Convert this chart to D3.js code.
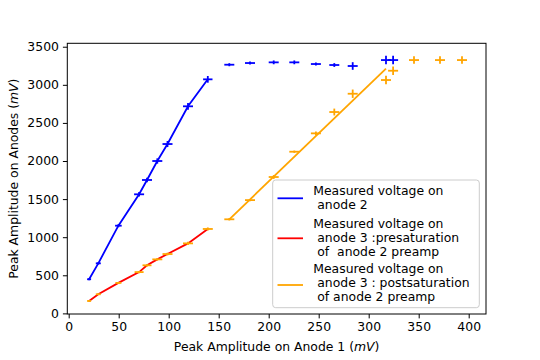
<!DOCTYPE html>
<html><head><meta charset="utf-8">
<script src="https://cdn.jsdelivr.net/npm/d3@7/dist/d3.min.js"></script>
<style>
body{margin:0;background:#fff;}
text{font-family:"DejaVu Sans",sans-serif;}
</style></head>
<body><svg id="c" width="540" height="360"></svg>
<script>
// Anode 1 amplitudes (mV)
const preX = [20.4, 29.6, 49.7, 70.4, 78.3, 88.6, 98.8, 119.3, 139.1];
const satX = [160.6, 181.3, 205.0, 225.6, 247.2, 265.6, 284.0, 317.3, 324.4];
const tailX = [345.3, 371.3, 393.3];
// Anode 2 (blue)
const a2PreY = [448, 657, 1151, 1563, 1751, 2000, 2223, 2718, 3072];
const a2PreXErr = [2, 2.5, 3.3, 5, 5, 5, 5, 5, 4.7];
const a2PreYErr = [12, 15, 20, 30, 30, 35, 40, 45, 44];
const a2SatY = [3264, 3286, 3295, 3295, 3273, 3260, 3247, 3325, 3325];
const a2SatXErr = [5, 5, 5, 5, 5, 5, 5, 5, 5];
const a2SatYErr = [20, 20, 25, 25, 20, 25, 50, 55, 55];
// Anode 3 presaturation (red line, orange error bars)
const a3PreY = [163, 251, 400, 542, 631, 709, 779, 919, 1108];
const a3PreXErr = [2, 2.5, 3, 4.5, 4.5, 5, 5, 5, 5];
const a3PreYErr = [10, 10, 12, 15, 15, 15, 18, 20, 20];
// Anode 3 postsaturation (orange)
const a3PostY = [1235, 1487, 1790, 2122, 2363, 2643, 2883, 3063, 3185];
const a3PostXErr = [5, 5, 5, 5, 5, 5, 5, 5, 5];
const a3PostYErr = [15, 15, 25, 15, 25, 45, 55, 55, 55];
const a3TailY = [3325, 3325, 3325];
const a3TailXErr = [5, 5, 5];
const a3TailYErr = [50, 50, 50];
// orange straight line
const postLineX = [160.6, 317.3];
const postLineY = [1235, 3212];

const xTicks = [0, 50, 100, 150, 200, 250, 300, 350, 400];
const yTicks = [0, 500, 1000, 1500, 2000, 2500, 3000, 3500];
const legendItems = [
  {color: "#0000ff", lines: ["Measured voltage on", " anode 2"]},
  {color: "#ff0000", lines: ["Measured voltage on", " anode 3 :presaturation", " of  anode 2 preamp"]},
  {color: "#ffa500", lines: ["Measured voltage on", " anode 3 : postsaturation", " of anode 2 preamp"]}
];

const FS = 12.4;
const svg = d3.select("#c");
const L = 67.3, R = 486, T = 43.3, B = 314;
const x = d3.scaleLinear().domain([-1.4, 417.3]).range([L, R]);
const y = d3.scaleLinear().domain([-8, 3545]).range([B, T]);

const zip = (xs, ys) => xs.map((v, i) => [v, ys[i]]);
const line = d3.line().x(d => x(d[0])).y(d => y(d[1]));

const g = svg.append("g");
g.append("path").attr("d", line(zip(preX, a2PreY))).attr("fill", "none").attr("stroke", "#0000ff").attr("stroke-width", 1.8);
g.append("path").attr("d", line(zip(preX, a3PreY))).attr("fill", "none").attr("stroke", "#ff0000").attr("stroke-width", 1.8);
g.append("path").attr("d", line(zip(postLineX, postLineY))).attr("fill", "none").attr("stroke", "#ffa500").attr("stroke-width", 1.8);

function errs(xs, ys, xe, ye, color) {
  const d = xs.map((v, i) => ({x: v, y: ys[i], xe: xe[i], ye: ye[i]}));
  const eg = g.append("g").attr("stroke", color).attr("stroke-width", 1.8);
  eg.selectAll(null).data(d).enter().append("line")
    .attr("x1", e => x(e.x - e.xe)).attr("x2", e => x(e.x + e.xe))
    .attr("y1", e => y(e.y)).attr("y2", e => y(e.y));
  eg.selectAll(null).data(d).enter().append("line")
    .attr("x1", e => x(e.x)).attr("x2", e => x(e.x))
    .attr("y1", e => y(e.y - e.ye)).attr("y2", e => y(e.y + e.ye));
}
errs(preX, a2PreY, a2PreXErr, a2PreYErr, "#0000ff");
errs(satX, a2SatY, a2SatXErr, a2SatYErr, "#0000ff");
errs(preX, a3PreY, a3PreXErr, a3PreYErr, "#ffa500");
errs(satX, a3PostY, a3PostXErr, a3PostYErr, "#ffa500");
errs(tailX, a3TailY, a3TailXErr, a3TailYErr, "#ffa500");

// axes
const xa = svg.append("g").attr("transform", `translate(0,${B})`)
  .call(d3.axisBottom(x).tickValues(xTicks).tickFormat(d3.format("d")).tickSize(4.4).tickPadding(4).tickSizeOuter(0));
const ya = svg.append("g").attr("transform", `translate(${L},0)`)
  .call(d3.axisLeft(y).tickValues(yTicks).tickFormat(d3.format("d")).tickSize(4.4).tickPadding(4).tickSizeOuter(0));
[xa, ya].forEach(a => {
  a.select(".domain").remove();
  a.selectAll("text").attr("font-size", FS).attr("fill", "#000").style("font-family", "DejaVu Sans");
  a.selectAll("line").attr("stroke", "#000").attr("stroke-width", 1);
});
svg.append("rect").attr("x", L).attr("y", T).attr("width", R - L).attr("height", B - T)
  .attr("fill", "none").attr("stroke", "#000").attr("stroke-width", 1);

// axis labels
const xl = svg.append("text").attr("x", (L + R) / 2).attr("y", 351).attr("text-anchor", "middle").attr("font-size", FS);
xl.append("tspan").text("Peak Amplitude on Anode 1 (");
xl.append("tspan").attr("font-style", "italic").text("mV");
xl.append("tspan").text(")");
const yl = svg.append("text").attr("transform", `translate(17.5,${(T + B) / 2}) rotate(-90)`).attr("text-anchor", "middle").attr("font-size", FS);
yl.append("tspan").text("Peak Amplitude on Anodes (");
yl.append("tspan").attr("font-style", "italic").text("mV");
yl.append("tspan").text(")");

// legend
const lg = svg.append("g");
lg.append("rect").attr("x", 272.7).attr("y", 180).attr("width", 206.6).attr("height", 127.7)
  .attr("rx", 3).attr("fill", "#fff").attr("fill-opacity", 0.8).attr("stroke", "#cccccc").attr("stroke-width", 1);
const groupTop = [190.7, 223.3, 269];
const lineY = [198.3, 238.3, 285];
legendItems.forEach((it, i) => {
  lg.append("line").attr("x1", 277.5).attr("x2", 303).attr("y1", lineY[i]).attr("y2", lineY[i])
    .attr("stroke", it.color).attr("stroke-width", 1.8);
  it.lines.forEach((t, j) => {
    lg.append("text").attr("x", 313.3).attr("y", groupTop[i] + j * 13.9 + 4.4)
      .attr("font-size", FS).attr("xml:space", "preserve").style("white-space", "pre").text(t);
  });
});
</script></body></html>
